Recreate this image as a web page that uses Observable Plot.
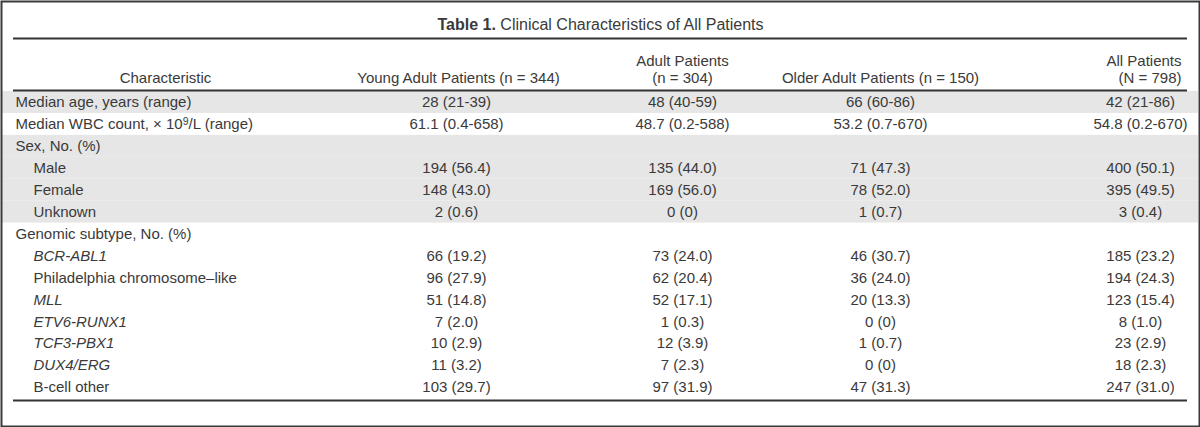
<!DOCTYPE html>
<html>
<head>
<meta charset="utf-8">
<script src="https://cdn.jsdelivr.net/npm/d3@7"></script>
<script src="https://cdn.jsdelivr.net/npm/@observablehq/plot@0.6"></script>
<style>
  html, body { margin: 0; padding: 0; background: #fff; }
  svg { display: block; }
</style>
</head>
<body>
<div id="chart"></div>
<script>
// ---- data ----
const tableNumber = "Table 1.";
const tableTitle = "Clinical Characteristics of All Patients";

const columnKeys = ["young", "adult", "older", "all"];
const labelHeader = "Characteristic";
const columnHeaders = [
  ["Young Adult Patients (n = 344)"],
  ["Adult Patients", "(n = 304)"],
  ["Older Adult Patients (n = 150)"],
  ["All Patients", "(N = 798)"]
];

const characteristics = [
  "Median age, years (range)",
  "Median WBC count, \u00d7 10\u2079/L (range)",
  "Sex, No. (%)",
  "Male",
  "Female",
  "Unknown",
  "Genomic subtype, No. (%)",
  "BCR-ABL1",
  "Philadelphia chromosome\u2013like",
  "MLL",
  "ETV6-RUNX1",
  "TCF3-PBX1",
  "DUX4/ERG",
  "B-cell other"
];
const sectionOf = [0, 1, 2, 2, 2, 2, 3, 3, 3, 3, 3, 3, 3, 3];
const isSubItem = [false, false, false, true, true, true, false, true, true, true, true, true, true, true];
const geneSymbols = ["BCR-ABL1", "MLL", "ETV6-RUNX1", "TCF3-PBX1", "DUX4/ERG"];

const young = ["28 (21-39)", "61.1 (0.4-658)", "", "194 (56.4)", "148 (43.0)", "2 (0.6)", "",
  "66 (19.2)", "96 (27.9)", "51 (14.8)", "7 (2.0)", "10 (2.9)", "11 (3.2)", "103 (29.7)"];
const adult = ["48 (40-59)", "48.7 (0.2-588)", "", "135 (44.0)", "169 (56.0)", "0 (0)", "",
  "73 (24.0)", "62 (20.4)", "52 (17.1)", "1 (0.3)", "12 (3.9)", "7 (2.3)", "97 (31.9)"];
const older = ["66 (60-86)", "53.2 (0.7-670)", "", "71 (47.3)", "78 (52.0)", "1 (0.7)", "",
  "46 (30.7)", "36 (24.0)", "20 (13.3)", "0 (0)", "1 (0.7)", "0 (0)", "47 (31.3)"];
const allPatients = ["42 (21-86)", "54.8 (0.2-670)", "", "400 (50.1)", "395 (49.5)", "3 (0.4)", "",
  "185 (23.2)", "194 (24.3)", "123 (15.4)", "8 (1.0)", "23 (2.9)", "18 (2.3)", "247 (31.0)"];

// ---- layout (styles / positions) ----
const L = {
  width: 1200, height: 427,
  bodyTop: 91, bodyBottom: 398,
  titleY: 24, topRuleY: 38, headLine1: 61, headLine2: 78, headRuleY: 90, bottomRuleY: 400,
  ruleInset: 13,
  labelX: 15, indentX: 33,
  labelHeadX: 165,
  colX: {young: 456, adult: 682, older: 880, all: 1140},
  headX: {young: 458, adult: 682, older: 880, all: 1181},
  headAnchor: {young: "middle", adult: "middle", older: "middle", all: "end"},
  font: "Liberation Sans, Arial, sans-serif",
  fontSize: 15,
  titleSize: 16,
  ink: "#3a3a3a",
  shade: "#e6e6e6",
  rule: "#333"
};

// ---- table construction ----
const rows = characteristics.map((label, i) => ({
  i, label, section: sectionOf[i], sub: isSubItem[i],
  italic: geneSymbols.includes(label),
  young: young[i], adult: adult[i], older: older[i], all: allPatients[i]
}));
const shaded = rows.filter(d => d.section % 2 === 0);
const headerCells = columnKeys.flatMap((key, c) => {
  const lines = columnHeaders[c];
  return lines.map((text, k) => ({key, text, line: lines.length === 1 ? 2 : k + 1}));
});
headerCells.push({key: "label", text: labelHeader, line: 2});

const nRows = rows.length;
const textBase = {fontFamily: L.font, fontSize: L.fontSize, fill: L.ink};

const marks = [];
// shaded bands
marks.push(Plot.rect(shaded, {y1: d => d.i, y2: d => d.i + 1, fill: L.shade, insetLeft: 2, insetRight: 2}));
// rules
marks.push(Plot.ruleY([0], {stroke: L.rule, strokeWidth: 2, insetLeft: L.ruleInset, insetRight: L.ruleInset, dy: L.topRuleY - L.bodyTop}));
marks.push(Plot.ruleY([0], {stroke: L.rule, strokeWidth: 2, insetLeft: L.ruleInset, insetRight: L.ruleInset, dy: L.headRuleY - L.bodyTop}));
marks.push(Plot.ruleY([nRows], {stroke: L.rule, strokeWidth: 2, insetLeft: L.ruleInset, insetRight: L.ruleInset, dy: L.bottomRuleY - L.bodyBottom}));
// title (single text, number made bold afterwards)
marks.push(Plot.text([tableNumber + " " + tableTitle], {
  ...textBase, fontSize: L.titleSize, text: d => d, frameAnchor: "top",
  textAnchor: "middle", dy: L.titleY, lineAnchor: "middle", className: "tbl-title"
}));
// headers
for (const h of ["label", ...columnKeys]) {
  const cells = headerCells.filter(d => d.key === h);
  for (const line of [1, 2]) {
    const c = cells.filter(d => d.line === line);
    if (!c.length) continue;
    marks.push(Plot.text(c, {
      ...textBase, text: "text", frameAnchor: "top-left",
      dx: h === "label" ? L.labelHeadX : L.headX[h],
      dy: line === 1 ? L.headLine1 : L.headLine2,
      textAnchor: h === "label" ? "middle" : L.headAnchor[h],
      lineAnchor: "middle"
    }));
  }
}
// row labels
for (const [sub, italic] of [[false, false], [true, false], [true, true]]) {
  marks.push(Plot.text(rows.filter(d => d.sub === sub && d.italic === italic), {
    ...textBase, y: d => d.i + 0.5, text: "label", frameAnchor: "left",
    dx: sub ? L.indentX : L.labelX, textAnchor: "start", fontStyle: italic ? "italic" : "normal",
    className: "row-label"
  }));
}
// values
for (const key of columnKeys) {
  marks.push(Plot.text(rows.filter(d => d[key] !== ""), {
    ...textBase, y: d => d.i + 0.5, text: key, frameAnchor: "left", dx: L.colX[key], textAnchor: "middle"
  }));
}
// outer border
marks.push(Plot.frame({stroke: "#3a3a3a", strokeWidth: 2, inset: 1}));

const chart = Plot.plot({
  width: L.width, height: L.height,
  marginTop: 0, marginBottom: 0, marginLeft: 0, marginRight: 0,
  y: {domain: [0, nRows], range: [L.bodyTop, L.bodyBottom], axis: null},
  style: {fontFamily: L.font, background: "#fff"},
  marks
});
document.getElementById("chart").appendChild(chart);

// typographic refinements: bold table number, true superscript
const svgNS = "http://www.w3.org/2000/svg";
chart.querySelectorAll(".tbl-title text").forEach(t => {
  const full = t.textContent;
  if (!full.startsWith(tableNumber)) return;
  t.textContent = "";
  const b = document.createElementNS(svgNS, "tspan");
  b.setAttribute("font-weight", "bold");
  b.textContent = tableNumber;
  const r = document.createElementNS(svgNS, "tspan");
  r.textContent = full.slice(tableNumber.length);
  t.append(b, r);
});
chart.querySelectorAll(".row-label text").forEach(t => {
  const s = t.textContent;
  const k = s.indexOf("\u2079");
  if (k < 0) return;
  t.textContent = "";
  const a = document.createElementNS(svgNS, "tspan");
  a.textContent = s.slice(0, k);
  const sup = document.createElementNS(svgNS, "tspan");
  sup.setAttribute("dy", "-0.4em");
  sup.setAttribute("font-size", "0.7em");
  sup.textContent = "9";
  const c = document.createElementNS(svgNS, "tspan");
  c.setAttribute("dy", "0.28em");
  c.textContent = s.slice(k + 1);
  t.append(a, sup, c);
});
</script>
</body>
</html>
